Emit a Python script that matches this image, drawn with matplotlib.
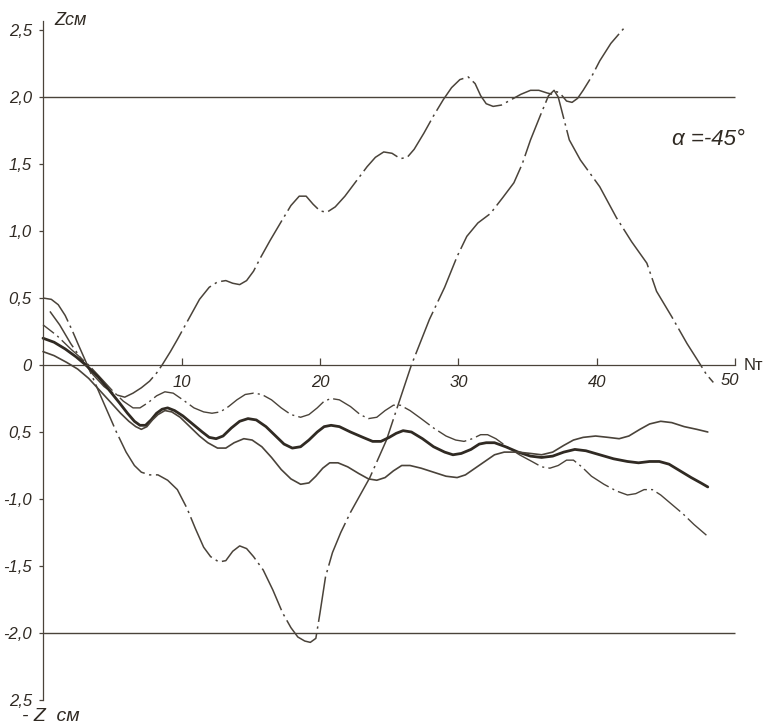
import matplotlib
matplotlib.use("Agg")
import matplotlib.pyplot as plt

# --- data (N = revolutions, z in cm) ----------------------------------------
# curve 1: dash-dot, climbs past the +2 cm limit
N1 = [0.5, 1.2, 2.0, 2.8, 3.6, 4.4, 5.2, 5.9, 6.5, 7.1, 7.7, 8.2, 8.6, 9.2,
      9.7, 10.5, 11.3, 12.0, 12.6, 13.2, 13.7, 14.2, 14.7, 15.2, 15.7, 16.4,
      17.2, 17.9, 18.5, 19.0, 19.5, 20.0, 20.5, 21.1, 21.8, 22.6, 23.4, 24.0,
      24.6, 25.2, 25.8, 26.3, 26.8, 27.5, 28.2, 28.9, 29.5, 30.1, 30.7, 31.2,
      31.6, 32.0, 32.5, 33.1, 33.8, 34.5, 35.2, 35.8, 36.4, 36.8, 37.1, 37.4,
      37.8, 38.2, 38.6, 39.0, 39.6, 40.2, 41.0, 42.0]
Z1 = [0.40, 0.30, 0.16, 0.04, -0.07, -0.16, -0.22, -0.24, -0.21, -0.17,
      -0.12, -0.06, 0.00, 0.10, 0.19, 0.34, 0.49, 0.58, 0.62, 0.63, 0.61,
      0.60, 0.63, 0.70, 0.80, 0.93, 1.07, 1.19, 1.26, 1.26, 1.20, 1.15, 1.14,
      1.18, 1.26, 1.37, 1.48, 1.55, 1.59, 1.58, 1.54, 1.55, 1.61, 1.73, 1.86,
      1.98, 2.07, 2.13, 2.15, 2.10, 2.01, 1.95, 1.93, 1.94, 1.98, 2.02, 2.05,
      2.05, 2.03, 2.02, 2.04, 2.02, 1.97, 1.96, 1.99, 2.05, 2.15, 2.27, 2.40,
      2.52]

# curve 2: dash-dot, dives to -2 cm, swings up to +2 cm and back
N2 = [0.0, 0.6, 1.1, 1.6, 2.1, 2.6, 3.2, 4.2, 5.3, 6.0, 6.6, 7.1, 7.7, 8.3,
      9.0, 9.7, 10.4, 11.0, 11.6, 12.1, 12.7, 13.2, 13.7, 14.2, 14.7, 15.2,
      15.9, 16.6, 17.3, 17.9, 18.4, 18.9, 19.3, 19.7, 20.0, 20.4, 20.9, 21.5,
      22.2, 22.9, 23.6, 24.2, 24.8, 25.6, 26.6, 27.9, 29.0, 29.9, 30.6, 31.4,
      32.3, 33.2, 34.0, 34.6, 35.2, 35.9, 36.5, 36.9, 37.2, 37.5, 38.0, 38.8,
      39.5, 40.2, 41.4, 42.5, 43.6, 44.3, 45.4, 46.5, 47.3, 47.9, 48.4]
Z2 = [0.50, 0.49, 0.45, 0.37, 0.26, 0.14, 0.00, -0.24, -0.50, -0.65, -0.75,
      -0.80, -0.82, -0.82, -0.86, -0.93, -1.07, -1.22, -1.36, -1.43, -1.47,
      -1.46, -1.39, -1.35, -1.37, -1.43, -1.53, -1.68, -1.85, -1.96, -2.03,
      -2.06, -2.07, -2.04, -1.85, -1.58, -1.40, -1.25, -1.10, -0.97, -0.84,
      -0.70, -0.56, -0.31, 0.00, 0.34, 0.58, 0.81, 0.96, 1.06, 1.13, 1.25,
      1.36, 1.50, 1.68, 1.86, 2.01, 2.05, 2.00, 1.88, 1.68, 1.53, 1.43, 1.33,
      1.10, 0.92, 0.76, 0.55, 0.36, 0.16, 0.03, -0.07, -0.13]

# curve 3: dash-dot, upper edge of the bundle
N3 = [0.0, 1.0, 2.0, 3.3, 4.2, 5.0, 5.8, 6.5, 7.0, 7.6, 8.2, 8.8, 9.4, 10.1,
      10.9, 11.6, 12.2, 12.8, 13.4, 14.0, 14.6, 15.2, 15.8, 16.5, 17.2, 17.9,
      18.6, 19.2, 19.8, 20.3, 20.8, 21.4, 22.2, 22.9, 23.5, 24.1, 24.7, 25.3,
      25.8, 26.5, 27.3, 28.2, 29.1, 29.8, 30.4, 31.0, 31.6, 32.1, 32.7, 33.5,
      34.4, 35.3, 36.0, 36.6, 37.2, 37.8, 38.3, 38.9, 39.6, 40.5, 41.4, 42.2,
      42.8, 43.4, 44.0, 44.6, 45.4, 46.2, 47.0, 47.9]
Z3 = [0.30, 0.22, 0.12, 0.00, -0.10, -0.19, -0.27, -0.32, -0.32, -0.28,
      -0.23, -0.20, -0.21, -0.26, -0.32, -0.35, -0.36, -0.35, -0.31, -0.26,
      -0.22, -0.21, -0.22, -0.26, -0.32, -0.37, -0.39, -0.37, -0.32, -0.27,
      -0.25, -0.26, -0.31, -0.37, -0.40, -0.39, -0.34, -0.30, -0.30, -0.34,
      -0.40, -0.47, -0.53, -0.56, -0.57, -0.55, -0.52, -0.52, -0.55, -0.61,
      -0.67, -0.72, -0.76, -0.77, -0.75, -0.71, -0.71, -0.76, -0.83, -0.89,
      -0.94, -0.97, -0.96, -0.93, -0.93, -0.97, -1.04, -1.11, -1.19, -1.27]

# curve 4: thick solid, middle of the bundle
N4 = [0.0, 0.8, 1.6, 2.4, 3.2, 4.0, 4.8, 5.5, 6.1, 6.6, 7.0, 7.4, 7.8, 8.2,
      8.6, 9.0, 9.5, 10.1, 10.8, 11.5, 12.0, 12.5, 13.0, 13.6, 14.2, 14.8,
      15.4, 16.1, 16.8, 17.4, 18.0, 18.6, 19.2, 19.8, 20.3, 20.8, 21.4, 22.2,
      23.1, 23.8, 24.4, 25.0, 25.5, 26.0, 26.6, 27.4, 28.2, 29.0, 29.6, 30.2,
      30.9, 31.5, 32.0, 32.6, 33.4, 34.3, 35.2, 36.0, 36.8, 37.6, 38.4, 39.2,
      40.2, 41.2, 42.2, 43.0, 43.8, 44.5, 45.2, 46.0, 46.8, 47.5, 48.0]
Z4 = [0.20, 0.17, 0.12, 0.06, -0.01, -0.09, -0.19, -0.28, -0.36, -0.42,
      -0.45, -0.45, -0.41, -0.36, -0.33, -0.32, -0.34, -0.38, -0.44, -0.50,
      -0.54, -0.55, -0.53, -0.47, -0.42, -0.40, -0.41, -0.46, -0.53, -0.59,
      -0.62, -0.61, -0.56, -0.50, -0.46, -0.45, -0.46, -0.50, -0.54, -0.57,
      -0.57, -0.54, -0.51, -0.49, -0.50, -0.55, -0.61, -0.65, -0.67, -0.66,
      -0.63, -0.59, -0.58, -0.58, -0.61, -0.65, -0.68, -0.69, -0.68, -0.65,
      -0.63, -0.64, -0.67, -0.70, -0.72, -0.73, -0.72, -0.72, -0.74, -0.79,
      -0.84, -0.88, -0.91]

# curve 5: thin solid, lower edge of the bundle
N5 = [0.0, 0.8, 1.7, 2.5, 3.3, 4.1, 4.9, 5.6, 6.2, 6.7, 7.1, 7.5, 7.9, 8.3,
      8.8, 9.3, 9.9, 10.6, 11.3, 11.9, 12.6, 13.2, 13.8, 14.5, 15.1, 15.8,
      16.5, 17.2, 17.9, 18.6, 19.2, 19.7, 20.2, 20.7, 21.3, 22.0, 22.8, 23.5,
      24.1, 24.7, 25.3, 25.9, 26.5, 27.3, 28.2, 29.1, 29.9, 30.5, 31.2, 31.9,
      32.6, 33.3, 34.3, 35.2, 36.0, 36.8, 37.6, 38.3, 39.0, 39.9, 40.8, 41.6,
      42.3, 43.1, 43.8, 44.6, 45.4, 46.3, 47.2, 48.0]
Z5 = [0.10, 0.07, 0.02, -0.03, -0.10, -0.19, -0.28, -0.36, -0.42, -0.46,
      -0.48, -0.46, -0.41, -0.37, -0.34, -0.35, -0.39, -0.46, -0.53, -0.58,
      -0.62, -0.62, -0.58, -0.55, -0.56, -0.61, -0.69, -0.78, -0.85, -0.89,
      -0.88, -0.83, -0.77, -0.73, -0.73, -0.76, -0.81, -0.85, -0.86, -0.84,
      -0.79, -0.75, -0.75, -0.77, -0.80, -0.83, -0.84, -0.82, -0.77, -0.72,
      -0.67, -0.65, -0.65, -0.66, -0.67, -0.65, -0.60, -0.56, -0.54, -0.53,
      -0.54, -0.55, -0.53, -0.48, -0.44, -0.42, -0.43, -0.46, -0.48, -0.50]

LIMITS = [2.0, -2.0]
X_TICKS = [10, 20, 30, 40, 50]
X_LABELS = ["10", "20", "30", "40", ""]
Y_TICKS = [2.5, 2.0, 1.5, 1.0, 0.5, 0.0, -0.5, -1.0, -1.5, -2.0, -2.5]
Y_LABELS = ["2,5", "2,0", "1,5", "1,0", "0,5", "0", "0,5", "-1,0", "-1,5",
            "-2,0", "2,5"]

INK = "#4a433a"
INK_DARK = "#302a23"
FONT = dict(family="Liberation Sans", style="italic", color=INK_DARK)

fig = plt.figure(figsize=(7.83, 7.28), dpi=100)
ax = fig.add_axes([0, 0, 1, 1])
ax.set_xlim(-3.105, 53.43)
ax.set_ylim(-2.709, 2.724)

for side in ("top", "right"):
    ax.spines[side].set_visible(False)
ax.spines["left"].set_position(("data", 0))
ax.spines["left"].set_bounds(-2.5, 2.57)
ax.spines["bottom"].set_position(("data", 0))
ax.spines["bottom"].set_bounds(0, 50)
for side in ("left", "bottom"):
    ax.spines[side].set_color(INK)
    ax.spines[side].set_linewidth(0.9)

ax.set_xticks(X_TICKS, X_LABELS, fontsize=12, **FONT)
ax.set_yticks(Y_TICKS, Y_LABELS, fontsize=12, **FONT)
ax.tick_params(axis="x", direction="in", length=5, width=0.9, color=INK, pad=7)
ax.tick_params(axis="y", direction="out", length=3, width=0.9, color=INK, pad=5)

ax.hlines(LIMITS, 0, 50, color=INK, lw=1.0)

smooth = dict(solid_joinstyle="round", dash_joinstyle="round",
              solid_capstyle="round")
ax.plot(N1, Z1, color=INK, lw=1.1, ls=(0, (28, 3, 1.5, 3)), **smooth)
ax.plot(N2, Z2, color=INK, lw=1.1, ls=(6, (30, 3, 1.5, 3)), **smooth)
ax.plot(N3, Z3, color=INK, lw=1.0, ls=(12, (22, 3, 1.5, 3)), **smooth)
ax.plot(N4, Z4, color=INK_DARK, lw=2.0, **smooth)
ax.plot(N5, Z5, color=INK, lw=1.2, **smooth)

ax.text(49.6, -0.06, "50", ha="center", va="top", fontsize=12, **FONT)
ax.text(50.6, 0.0, "Nт", ha="left", va="center", fontsize=12,
        family="Liberation Sans", color=INK_DARK)
ax.text(0.8, 2.57, "Zсм", ha="left", va="center", fontsize=13, **FONT)
ax.text(-1.5, -2.62, "- Z  см", ha="left", va="center", fontsize=14, **FONT)
ax.text(45.4, 1.68, "α =-45°", ha="left", va="center", fontsize=16, **FONT)

fig.savefig("out.png", dpi=100, facecolor="white")
